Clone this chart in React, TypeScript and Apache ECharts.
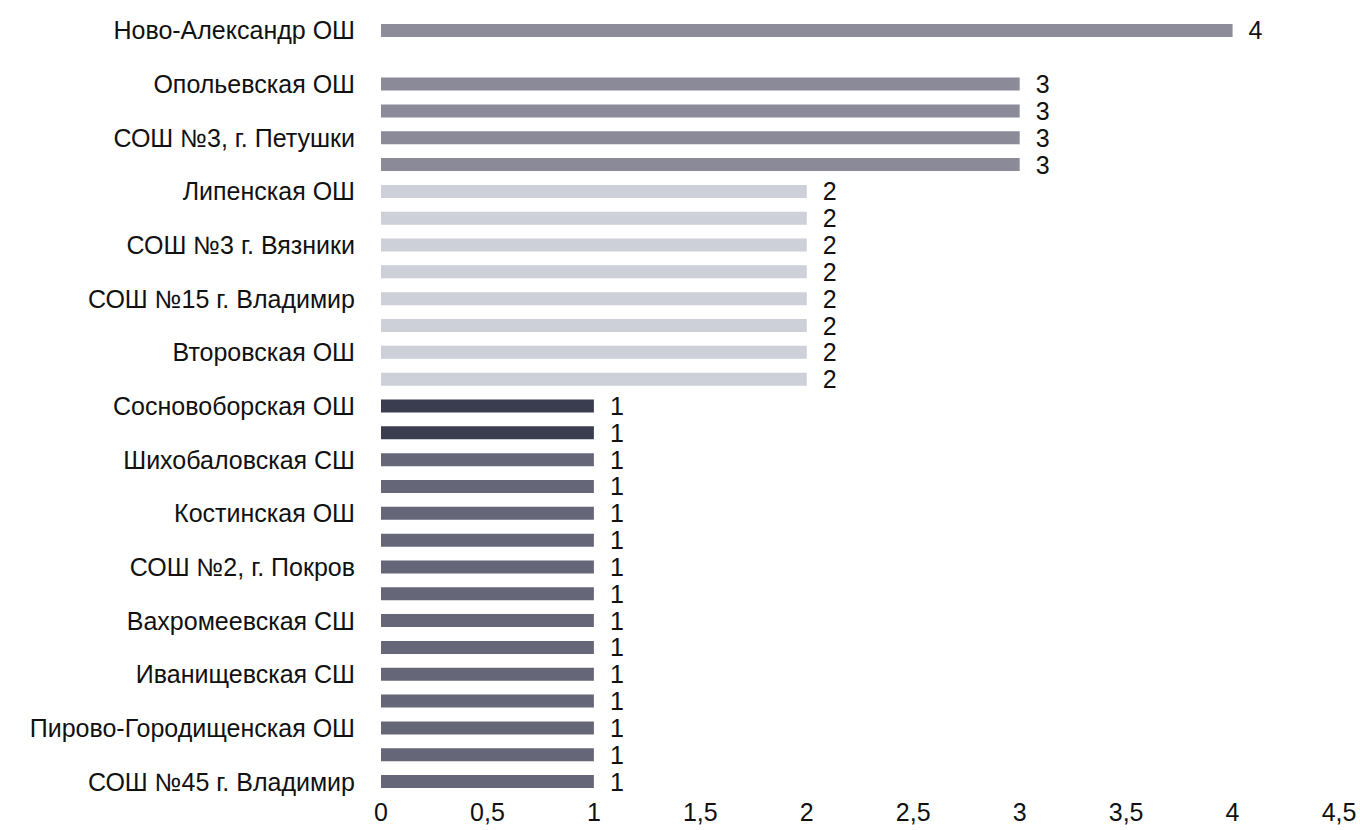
import React, { useEffect, useRef } from "react";
import * as echarts from "echarts";

const categories: string[] = [
  "Ново-Александр ОШ", "",
  "Опольевская ОШ", "",
  "СОШ №3, г. Петушки", "",
  "Липенская ОШ", "",
  "СОШ №3 г. Вязники", "",
  "СОШ №15 г. Владимир", "",
  "Второвская ОШ", "",
  "Сосновоборская ОШ", "",
  "Шихобаловская СШ", "",
  "Костинская ОШ", "",
  "СОШ №2, г. Покров", "",
  "Вахромеевская СШ", "",
  "Иванищевская СШ", "",
  "Пирово-Городищенская ОШ", "",
  "СОШ №45 г. Владимир",
];

const values: (number | null)[] = [
  4, null,
  3, 3, 3, 3,
  2, 2, 2, 2, 2, 2, 2, 2,
  1, 1, 1, 1, 1, 1, 1, 1, 1, 1, 1, 1, 1, 1, 1,
];

const barColors: string[] = [
  "#8d8c9b", "#8d8c9b",
  "#8b8a99", "#8b8a99", "#8b8a99", "#8b8a99",
  "#cdcfd9", "#cdcfd9", "#cdcfd9", "#cdcfd9", "#cdcfd9", "#cdcfd9", "#cdcfd9", "#cdcfd9",
  "#3a3c4f", "#3a3c4f",
  "#666679", "#666679", "#666679", "#666679", "#666679", "#666679", "#666679",
  "#666679", "#666679", "#666679", "#666679", "#666679", "#666679",
];

const xTicks = { min: 0, max: 4.5, interval: 0.5 };

export default function App() {
  const ref = useRef<HTMLDivElement>(null);
  useEffect(() => {
    if (!ref.current) return;
    const chart = echarts.init(ref.current, undefined, { renderer: "svg" });
    const font = "Arial, 'Liberation Sans', sans-serif";
    chart.setOption({
      animation: false,
      backgroundColor: "#ffffff",
      grid: { left: 381, right: 21, top: 17, bottom: 35, containLabel: false },
      xAxis: {
        type: "value",
        min: xTicks.min,
        max: xTicks.max,
        interval: xTicks.interval,
        axisLine: { show: false },
        axisTick: { show: false },
        splitLine: { show: false },
        axisLabel: {
          color: "#111",
          fontSize: 25,
          fontFamily: font,
          margin: 4,
          formatter: (v: number) => String(v).replace(".", ","),
        },
      },
      yAxis: {
        type: "category",
        inverse: true,
        data: categories,
        axisLine: { show: false },
        axisTick: { show: false },
        splitLine: { show: false },
        axisLabel: {
          interval: 0,
          color: "#111",
          fontSize: 25,
          fontFamily: font,
          margin: 26,
        },
      },
      series: [
        {
          type: "bar",
          barWidth: 13,
          data: values.map((v, i) => ({
            value: v,
            itemStyle: { color: barColors[i] },
          })),
          label: {
            show: true,
            position: "right",
            distance: 16,
            color: "#111",
            fontSize: 25,
            fontFamily: font,
          },
        },
      ],
    });
    return () => chart.dispose();
  }, []);
  return (
    <div
      ref={ref}
      style={{ position: "fixed", left: 0, top: 0, width: 1360, height: 830, background: "#fff" }}
    />
  );
}
